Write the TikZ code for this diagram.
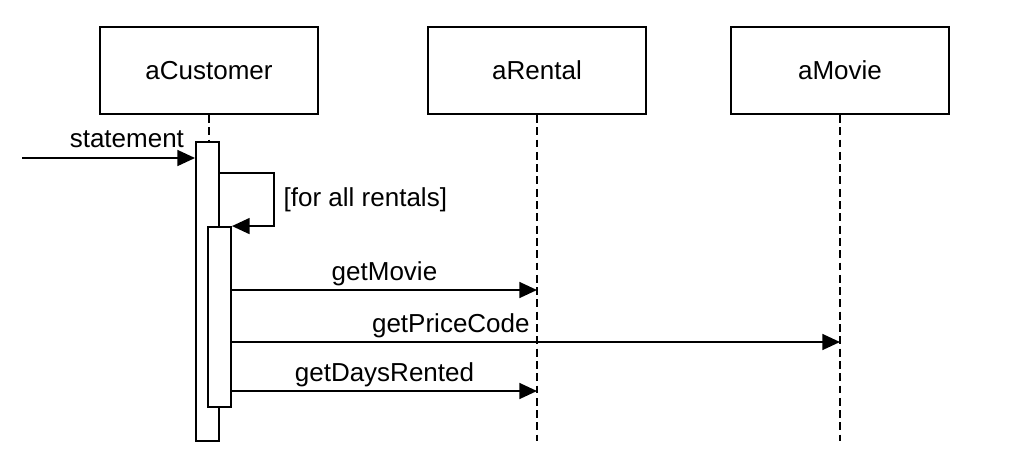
\documentclass[tikz,border=0pt]{standalone}
\usepackage{fontspec}
\setmainfont{Liberation Sans}
\usetikzlibrary{arrows.meta}
\begin{document}
\begin{tikzpicture}[
	x=0.02cm,y=-0.02cm,
	line width=1.1pt,
	line join=miter,
	font=\fontsize{14.8}{17}\selectfont,
	>={Triangle[length=10pt,width=9pt]},
	objbox/.style={draw,fill=white,minimum width=4.36cm,minimum height=1.74cm,inner sep=0pt},
	actbar/.style={draw,fill=white,minimum width=0.46cm,inner sep=0pt},
	lifeline/.style={dash pattern=on 4.5pt off 2.5pt},
	msg/.style={->},
	lbl/.style={inner sep=2pt}
	]
	\useasboundingbox (0,0) rectangle (1009,467);
	% objects
	\node[objbox] (cust) at (209,70.5) {aCustomer};
	\node[objbox] (rent) at (537,70.5) {aRental};
	\node[objbox] (movie) at (840,70.5) {aMovie};
	\coordinate (bottom) at (0,441);
	% lifelines
	\draw[lifeline] (cust.south) -- (cust.south |- bottom);
	\draw[lifeline] (rent.south) -- (rent.south |- bottom);
	\draw[lifeline] (movie.south) -- (movie.south |- bottom);
	% activations
	\node[actbar,minimum height=5.98cm] (act1) at (207.5,291.5) {};
	\node[actbar,minimum height=3.6cm] (act2) at (219.5,317) {};
	% messages
	\coordinate (start) at (22,158);
	\coordinate (lp) at (0,173);
	\coordinate (m1) at (0,290);
	\coordinate (m2) at (0,342);
	\coordinate (m3) at (0,391);
	\draw[msg] (start) -- (start -| act1.west) node[lbl,pos=0.606,above,yshift=3pt] {statement};
	\draw[msg] (act1.east |- lp) -- ++(54,0) |- (act2.north east) node[lbl,pos=0.25,right,xshift=3pt] {[for all rentals]};
	\draw[msg] (act2.east |- m1) -- (rent.south |- m1) node[lbl,midway,above] {getMovie};
	\draw[msg] (act2.east |- m2) -- (movie.south |- m2) node[lbl,pos=0.36,above] {getPriceCode};
	\draw[msg] (act2.east |- m3) -- (rent.south |- m3) node[lbl,midway,above] {getDaysRented};
\end{tikzpicture}
\end{document}
